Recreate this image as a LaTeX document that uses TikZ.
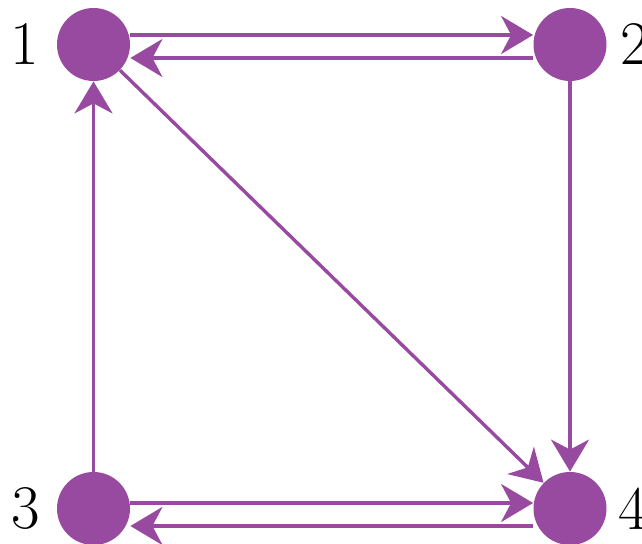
\documentclass[tikz,border=0pt]{standalone}
\usepackage{tikz}
\usetikzlibrary{arrows.meta,positioning}
\definecolor{vpurple}{RGB}{151,74,159}
\tikzset{
  vertex/.style={circle, fill=vpurple, draw=none, minimum size=36.5pt, inner sep=0pt},
  vlabel/.style={inner sep=0pt, font=\fontsize{31}{36}\selectfont},
  arrow/.style={-{Stealth[length=16pt,width=19pt,inset=5pt]}, line width=1.7pt, draw=vpurple, fill=vpurple}
}
\begin{document}
\begin{tikzpicture}[x=0.5pt, y=-0.5pt]
\useasboundingbox (0,0) rectangle (642,544);
\node[vertex] (v1) at (93.5,44.5) {};
\node[vertex] (v2) at (570,44.5) {};
\node[vertex] (v3) at (93.5,508.5) {};
\node[vertex] (v4) at (570,508.5) {};
\node[vlabel, left=8.5pt of v1] (l1) {1};
\node[vlabel, right=6.5pt of v2] (l2) {2};
\node[vlabel, left=8pt of v3] (l3) {3};
\node[vlabel, right=5.5pt of v4] (l4) {4};
\draw[arrow] ([yshift=4.75pt]v1.east) -- ([yshift=4.75pt]v2.west);
\draw[arrow] ([yshift=-6.75pt]v2.west) -- ([yshift=-6.75pt]v1.east);
\draw[arrow] ([yshift=2.75pt]v3.east) -- ([yshift=2.75pt]v4.west);
\draw[arrow] ([yshift=-8.75pt]v4.west) -- ([yshift=-8.75pt]v3.east);
\draw[arrow] (v3) -- (v1);
\draw[arrow] (v2) -- (v4);
\draw[arrow] (v1) -- (v4);
\end{tikzpicture}
\end{document}
